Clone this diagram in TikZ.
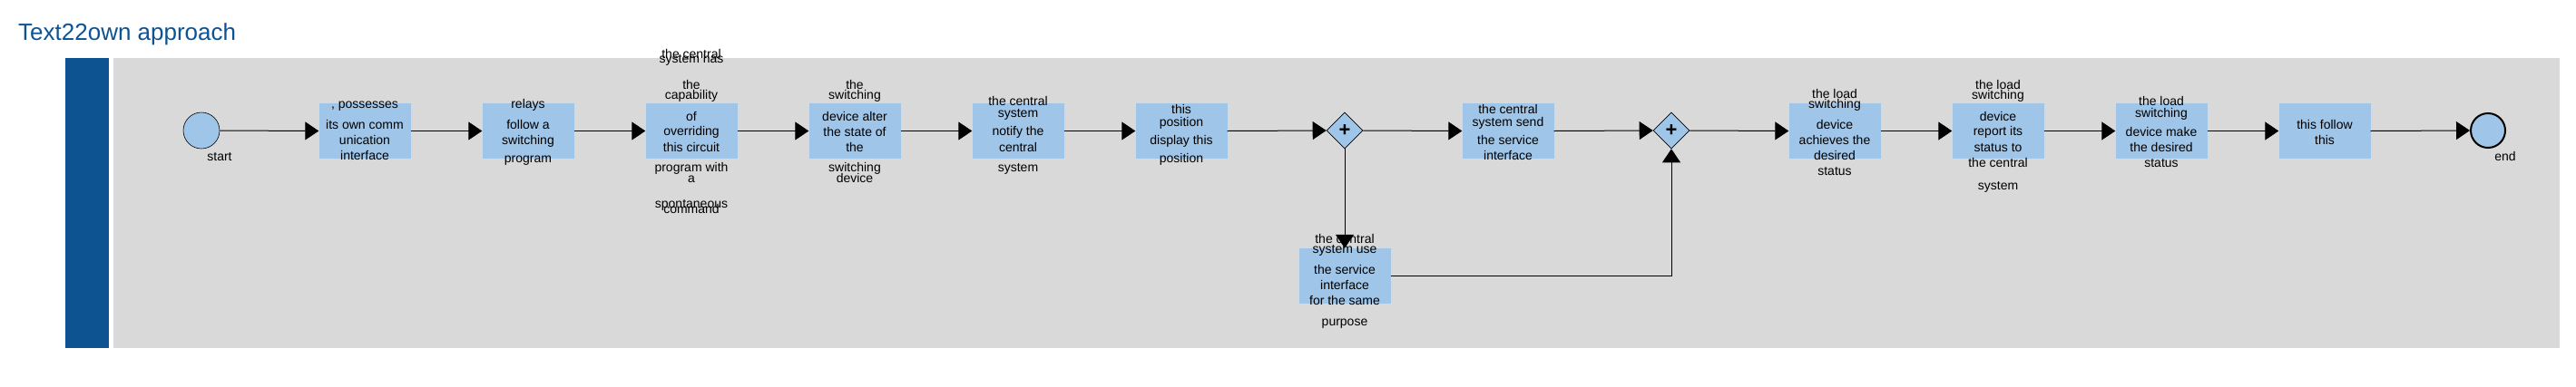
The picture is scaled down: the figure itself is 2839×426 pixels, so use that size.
\documentclass[tikz,border=0pt]{standalone}
\usepackage{fontspec}
\setmainfont{Liberation Sans}
\usetikzlibrary{arrows.meta,shapes.geometric}
\definecolor{titleblue}{RGB}{11,83,148}
\definecolor{barblue}{RGB}{14,83,145}
\definecolor{lanegray}{RGB}{217,217,217}
\definecolor{taskblue}{RGB}{159,197,232}
\begin{document}
\begin{tikzpicture}[x=1pt,y=-1pt,
  task/.style={fill=taskblue, minimum width=101pt, minimum height=61pt, inner sep=0pt},
  gw/.style={diamond, draw=black, line width=0.6pt, fill=taskblue, minimum width=40pt, minimum height=40pt, inner sep=0pt, font=\fontsize{22}{22}\selectfont\bfseries},
  ev/.style={circle, draw=black, fill=taskblue, minimum size=40pt, inner sep=0pt, line width=0.6pt},
  lbl/.style={anchor=base, yshift=-5pt, inner sep=0pt, font=\fontsize{14}{16}\selectfont},
  flow/.style={line width=1pt, -{Triangle[length=15pt,width=20pt]}},
]
\useasboundingbox (0,0) rectangle (2839,426);
\fill[white] (0,0) rectangle (2839,426);
% title
\node[anchor=base west, inner sep=0pt, text=titleblue, font=\fontsize{26}{30}\selectfont] (title) at (20,44) {Text22own approach};
% lane
\fill[barblue] (72,64) rectangle (120,384);
\fill[lanegray] (125,64) rectangle (2821,384);
% events
\node[ev] (st) at (222,144) {};
\node[ev, line width=2pt, minimum size=38pt] (en) at (2742,144) {};
\node[lbl] (stl) at (242,172) {start};
\node[lbl] (enl) at (2761,172) {end};
% tasks
\node[task] (b1) at (402,144.5) {};
\node[task] (b2) at (582,144.5) {};
\node[task] (b3) at (762,144.5) {};
\node[task] (b4) at (942,144.5) {};
\node[task] (b5) at (1122,144.5) {};
\node[task] (b6) at (1302,144.5) {};
\node[gw] (g1) at (1482,144) {+};
\node[task] (b7) at (1662,144.5) {};
\node[gw] (g2) at (1842,144) {+};
\node[task] (b8) at (2022,144.5) {};
\node[task] (b9) at (2202,144.5) {};
\node[task] (b10) at (2382,144.5) {};
\node[task] (b11) at (2562,144.5) {};
\node[task] (b12) at (1482,304.5) {};
% labels
\foreach \yy/\txt [count=\k] in {114/{, possesses},137/its own comm,154.3/unication,171/interface}
  {\node[lbl] (l1x\k) at (402,\yy) {\txt};}
\foreach \yy/\txt [count=\k] in {114.3/relays,137.3/follow a,154.3/switching,174.3/program}
  {\node[lbl] (l2x\k) at (582,\yy) {\txt};}
\foreach \yy/\txt [count=\k] in {59.3/the central,64.7/system has,93.3/the,104.3/capability,128.3/of,144.3/overriding,162/this circuit,184.3/program with,196/a,224/spontaneous,230.3/command}
  {\node[lbl] (l3x\k) at (762,\yy) {\txt};}
\foreach \yy/\txt [count=\k] in {93.3/the,104/switching,128.3/device alter,145.3/the state of,162.3/the,184.3/switching,196/device}
  {\node[lbl] (l4x\k) at (942,\yy) {\txt};}
\foreach \yy/\txt [count=\k] in {111/the central,124.3/system,144.3/notify the,162.3/central,184.3/system}
  {\node[lbl] (l5x\k) at (1122,\yy) {\txt};}
\foreach \yy/\txt [count=\k] in {120/this,134.3/position,154.3/display this,174.3/position}
  {\node[lbl] (l6x\k) at (1302,\yy) {\txt};}
\foreach \yy/\txt [count=\k] in {120/the central,134.3/system send,154.3/the service,171/interface}
  {\node[lbl] (l7x\k) at (1662,\yy) {\txt};}
\foreach \yy/\txt [count=\k] in {103.3/the load,114.3/switching,137.3/device,154.3/achieves the,171/desired,188/status}
  {\node[lbl] (l8x\k) at (2022,\yy) {\txt};}
\foreach \yy/\txt [count=\k] in {93.3/the load,104/switching,128.3/device,144.3/report its,162.3/status to,179.3/the central,204/system}
  {\node[lbl] (l9x\k) at (2202,\yy) {\txt};}
\foreach \yy/\txt [count=\k] in {111/the load,124.3/switching,145.3/device make,162.3/the desired,179.3/status}
  {\node[lbl] (l10x\k) at (2382,\yy) {\txt};}
\foreach \yy/\txt [count=\k] in {137.3/this follow,154.3/this}
  {\node[lbl] (l11x\k) at (2562,\yy) {\txt};}
\foreach \yy/\txt [count=\k] in {263.3/the central,274.3/system use,297.3/the service,314.3/interface,331/for the same,354.3/purpose}
  {\node[lbl] (l12x\k) at (1482,\yy) {\txt};}
% flows
\draw[flow] (st.east) -- (b1.west);
\draw[flow] (b1.east) -- (b2.west);
\draw[flow] (b2.east) -- (b3.west);
\draw[flow] (b3.east) -- (b4.west);
\draw[flow] (b4.east) -- (b5.west);
\draw[flow] (b5.east) -- (b6.west);
\draw[flow] (b6.east) -- (g1.west);
\draw[flow] (g1.east) -- (b7.west);
\draw[flow] (b7.east) -- (g2.west);
\draw[flow] (g2.east) -- (b8.west);
\draw[flow] (b8.east) -- (b9.west);
\draw[flow] (b9.east) -- (b10.west);
\draw[flow] (b10.east) -- (b11.west);
\draw[flow] (b11.east) -- (en.west);
\draw[flow] (g1.south) -- (b12.north);
\draw[flow] (b12.east) -| (g2.south);
\end{tikzpicture}
\end{document}
